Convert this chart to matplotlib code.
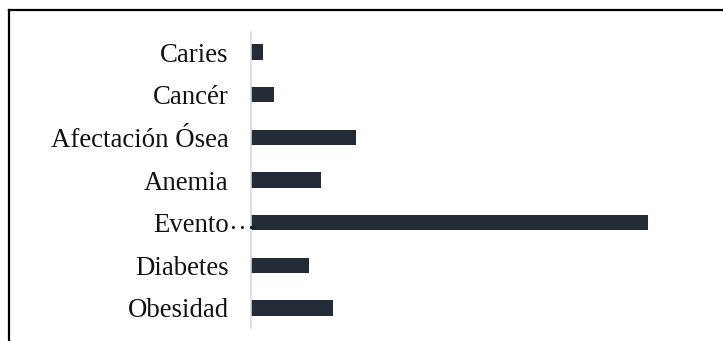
import matplotlib.pyplot as plt
from matplotlib.lines import Line2D

# Datos
categorias = ["Caries", "Cancér", "Afectación Ósea", "Anemia", "Evento", "Diabetes", "Obesidad"]
valores = [1, 2, 9, 6, 34, 5, 7]

plt.rcParams['font.family'] = ['Liberation Serif', 'DejaVu Serif']

fig = plt.figure(figsize=(7.23, 3.41), dpi=100)
ax = fig.add_axes([251 / 723, 1 - 328 / 341, 467 / 723, 296 / 341])

pos = list(range(len(categorias)))
ax.barh(pos, valores, height=0.36, color='#232b36')

ax.set_xlim(0, 40)
ax.set_ylim(len(categorias) - 0.53, -0.47)
ax.set_yticks(pos)
ax.set_yticklabels(categorias, fontsize=19.3, color='#111111')
ax.tick_params(axis='y', length=0, pad=16)
ax.set_xticks([])

for lado in ['top', 'right', 'bottom']:
    ax.spines[lado].set_visible(False)
ax.spines['left'].set_color('#d9d9d9')
ax.spines['left'].set_linewidth(1.2)

# Etiqueta recortada con puntos suspensivos
i = categorias.index("Evento")
ax.annotate("…", xy=(0, i), xycoords=('axes fraction', 'data'),
            xytext=(-16.5, 0), textcoords='offset points',
            ha='left', va='center', fontsize=19.3, color='#111111')

# Marco exterior
x0 = 9 / 723
y0 = 1 - 10 / 341
fig.add_artist(Line2D([x0, x0], [0, y0], color='black', lw=1.6))
fig.add_artist(Line2D([x0, 1], [y0, y0], color='black', lw=1.6))

fig.savefig("out.png", dpi=100)
